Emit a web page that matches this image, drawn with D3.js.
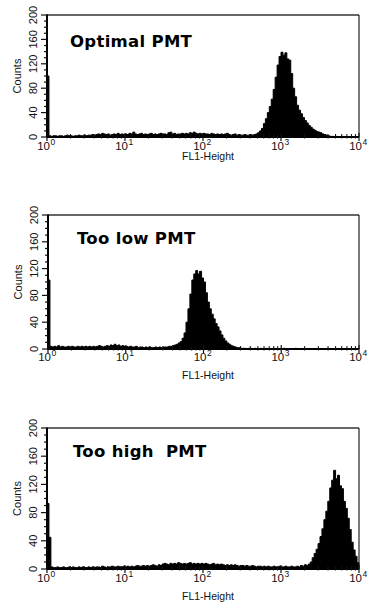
<!DOCTYPE html>
<html>
<head>
<meta charset="utf-8">
<script src="https://cdn.jsdelivr.net/npm/d3@7"></script>
<style>
  html, body { margin: 0; padding: 0; background: #fff; }
  svg { display: block; }
  text { font-family: "Liberation Sans", Arial, sans-serif; fill: #111; }
  .title { font-family: "DejaVu Sans", sans-serif; font-weight: bold; fill: #000; white-space: pre; letter-spacing: 0.3px; }
</style>
</head>
<body>
<svg id="chart" width="369" height="611"></svg>
<script>
// ---- data ----
const titles = ["Optimal PMT", "Too low PMT", "Too high  PMT"];
const xAxisTitle = "FL1-Height";
const yAxisTitle = "Counts";
const yTickValues = [0, 40, 80, 120, 160, 200];
const xTickExponents = [0, 1, 2, 3, 4];
const binsPerDecade = 40;

const optimalCounts = [
  100,
  2,1,2,2,1,2,2,1,2,3,2,2,1,2,2,3,2,2,3,2,3,3,4,3,4,
  5,4,6,5,4,5,3,4,5,4,6,4,5,4,
  5,4,6,5,8,5,4,5,6,4,
  5,4,5,6,4,5,4,5,6,5,
  5,4,7,8,5,6,4,5,5,6,
  5,6,5,7,6,8,6,5,6,5,
  6,5,5,4,6,5,4,5,4,5,
  4,5,6,4,3,4,5,3,4,3,
  3,4,3,3,4,3,4,5,7,10,
  14,22,30,40,50,62,78,98,118,132,
  139,134,138,128,126,104,80,66,52,44,
  38,32,27,23,19,16,13,11,9,8,
  7,5,4,3,2,1,1,0,1,0,
  0,1,0,0,0,0,0,0,0,0
];

const tooLowCounts = [
  103,
  4,3,4,3,5,3,4,3,3,4,3,4,3,3,4,3,4,3,4,
  3,4,3,4,3,4,5,4,3,4,5,4,6,5,7,5,6,4,5,4,
  4,3,4,3,3,4,2,3,3,2,3,2,3,2,2,3,2,3,2,3,
  3,3,4,4,5,6,7,9,11,16,
  24,40,60,82,103,112,117,112,116,106,
  100,84,70,60,52,45,38,33,27,21,
  16,12,9,7,5,4,3,2,2,1,
  1,1,0,1,1,0,1,0,0,1,
  0,0,1,0,0,0,1,0,0,0,
  0,1,0,0,0,0,0,1,0,0,
  0,0,0,0,0,0,0,0,0,0,
  0,0,0,0,0,0,0,0,0,0,
  0,0,0,0,0,0,0,0,0,0
];

const tooHighCounts = [
  93, 45,
  3,2,2,3,2,2,3,2,2,3,2,3,2,2,3,2,3,2,
  2,3,2,3,2,3,3,2,4,3,2,3,3,4,3,3,4,3,3,4,
  3,4,3,4,3,4,5,4,4,5,4,5,4,5,6,5,4,6,5,7,
  8,7,6,8,7,8,7,9,8,7,8,7,8,9,7,8,7,8,7,8,
  7,8,7,6,7,8,6,7,6,7,6,5,6,5,6,5,6,5,4,5,
  5,4,5,4,4,5,4,3,4,4,3,4,3,4,3,3,4,3,3,4,
  3,3,4,3,3,4,3,3,4,3,5,4,6,5,
  7,10,16,22,28,36,46,57,70,82,
  96,115,126,140,128,133,118,114,96,86,
  72,56,38,27,18,9
];

const seriesCounts = [optimalCounts, tooLowCounts, tooHighCounts];

// ---- layout (pixels) ----
const layouts = [
  { x0: 47, x1: 359, yTop: 15,  yBase: 137, titleX: 70, titleY: 47,  tickDy: 12.5, xTitleDy: 23 },
  { x0: 48, x1: 359, yTop: 215, yBase: 349, titleX: 77, titleY: 244, tickDy: 11.5, xTitleDy: 30 },
  { x0: 47, x1: 359, yTop: 428, yBase: 569, titleX: 73, titleY: 457, tickDy: 12.5, xTitleDy: 31 }
];

const svg = d3.select("#chart");

layouts.forEach((L, p) => {
  const counts = seriesCounts[p];
  const g = svg.append("g");
  const x = d3.scaleLog().domain([1, 1e4]).range([L.x0, L.x1]);
  const y = d3.scaleLinear().domain([0, 200]).range([L.yBase, L.yTop]);

  // histogram as step area
  const pts = counts.map((c, i) => ({ v: Math.pow(10, i / binsPerDecade), c }));
  pts.push({ v: 1e4, c: counts[counts.length - 1] });
  const area = d3.area()
    .x(d => x(d.v))
    .y0(L.yBase)
    .y1(d => y(d.c))
    .curve(d3.curveStepAfter);
  g.append("path").datum(pts).attr("d", area)
    .attr("fill", "#000").attr("stroke", "#000").attr("stroke-width", 1)
    .attr("stroke-linejoin", "miter");

  // frame
  g.append("line").attr("x1", L.x0).attr("x2", L.x1).attr("y1", L.yTop).attr("y2", L.yTop)
    .attr("stroke", "#333").attr("stroke-width", 1.5);
  g.append("line").attr("x1", L.x1).attr("x2", L.x1).attr("y1", L.yTop).attr("y2", L.yBase)
    .attr("stroke", "#222").attr("stroke-width", 1.2);
  g.append("line").attr("x1", L.x0).attr("x2", L.x1).attr("y1", L.yBase).attr("y2", L.yBase)
    .attr("stroke", "#000").attr("stroke-width", 1.8);
  g.append("line").attr("x1", L.x0).attr("x2", L.x0).attr("y1", L.yTop - 0.5).attr("y2", L.yBase + 1)
    .attr("stroke", "#000").attr("stroke-width", 2);

  // y ticks (minor every 10, major every 40)
  const yMinor = d3.range(0, 201, 10);
  g.selectAll(".ymin").data(yMinor).enter().append("line")
    .attr("x1", d => yTickValues.includes(d) ? L.x0 - 6 : L.x0 - 3)
    .attr("x2", L.x0)
    .attr("y1", d => y(d)).attr("y2", d => y(d))
    .attr("stroke", "#111").attr("stroke-width", 1.2);
  g.selectAll(".ylab").data(yTickValues).enter().append("text")
    .attr("transform", d => `translate(${L.x0 - 10.5},${y(d)}) rotate(-90)`)
    .attr("text-anchor", "middle")
    .attr("font-size", 11)
    .text(d => d);
  g.append("text")
    .attr("transform", `translate(${L.x0 - 26},${(L.yTop + L.yBase) / 2}) rotate(-90)`)
    .attr("text-anchor", "middle")
    .attr("font-size", 11)
    .text(yAxisTitle);

  // x ticks
  const minorVals = [];
  [0, 1, 2, 3].forEach(e => { for (let k = 2; k <= 9; k++) minorVals.push(k * Math.pow(10, e)); });
  g.selectAll(".xmin").data(minorVals).enter().append("line")
    .attr("x1", d => x(d)).attr("x2", d => x(d))
    .attr("y1", L.yBase - 3).attr("y2", L.yBase + 1.5)
    .attr("stroke", "#111").attr("stroke-width", 1);
  g.selectAll(".xmaj").data(xTickExponents).enter().append("line")
    .attr("x1", d => x(Math.pow(10, d))).attr("x2", d => x(Math.pow(10, d)))
    .attr("y1", L.yBase - 4).attr("y2", L.yBase + 4)
    .attr("stroke", "#111").attr("stroke-width", 1.2);
  g.selectAll(".xlab").data(xTickExponents).enter().append("text")
    .attr("x", d => x(Math.pow(10, d)) + 3)
    .attr("y", L.yBase + L.tickDy)
    .attr("text-anchor", "end")
    .attr("font-size", 11.5)
    .text("10");
  g.selectAll(".xexp").data(xTickExponents).enter().append("text")
    .attr("x", d => x(Math.pow(10, d)) + 3.5)
    .attr("y", L.yBase + L.tickDy - 4.5)
    .attr("text-anchor", "start")
    .attr("font-size", 8.5)
    .text(d => d);
  g.append("text")
    .attr("x", 208)
    .attr("y", L.yBase + L.xTitleDy)
    .attr("text-anchor", "middle")
    .attr("font-size", 10.5)
    .text(xAxisTitle);

  // panel title
  g.append("text")
    .attr("class", "title")
    .attr("x", L.titleX).attr("y", L.titleY)
    .attr("font-size", 16.5)
    .text(titles[p]);
});
</script>
</body>
</html>
